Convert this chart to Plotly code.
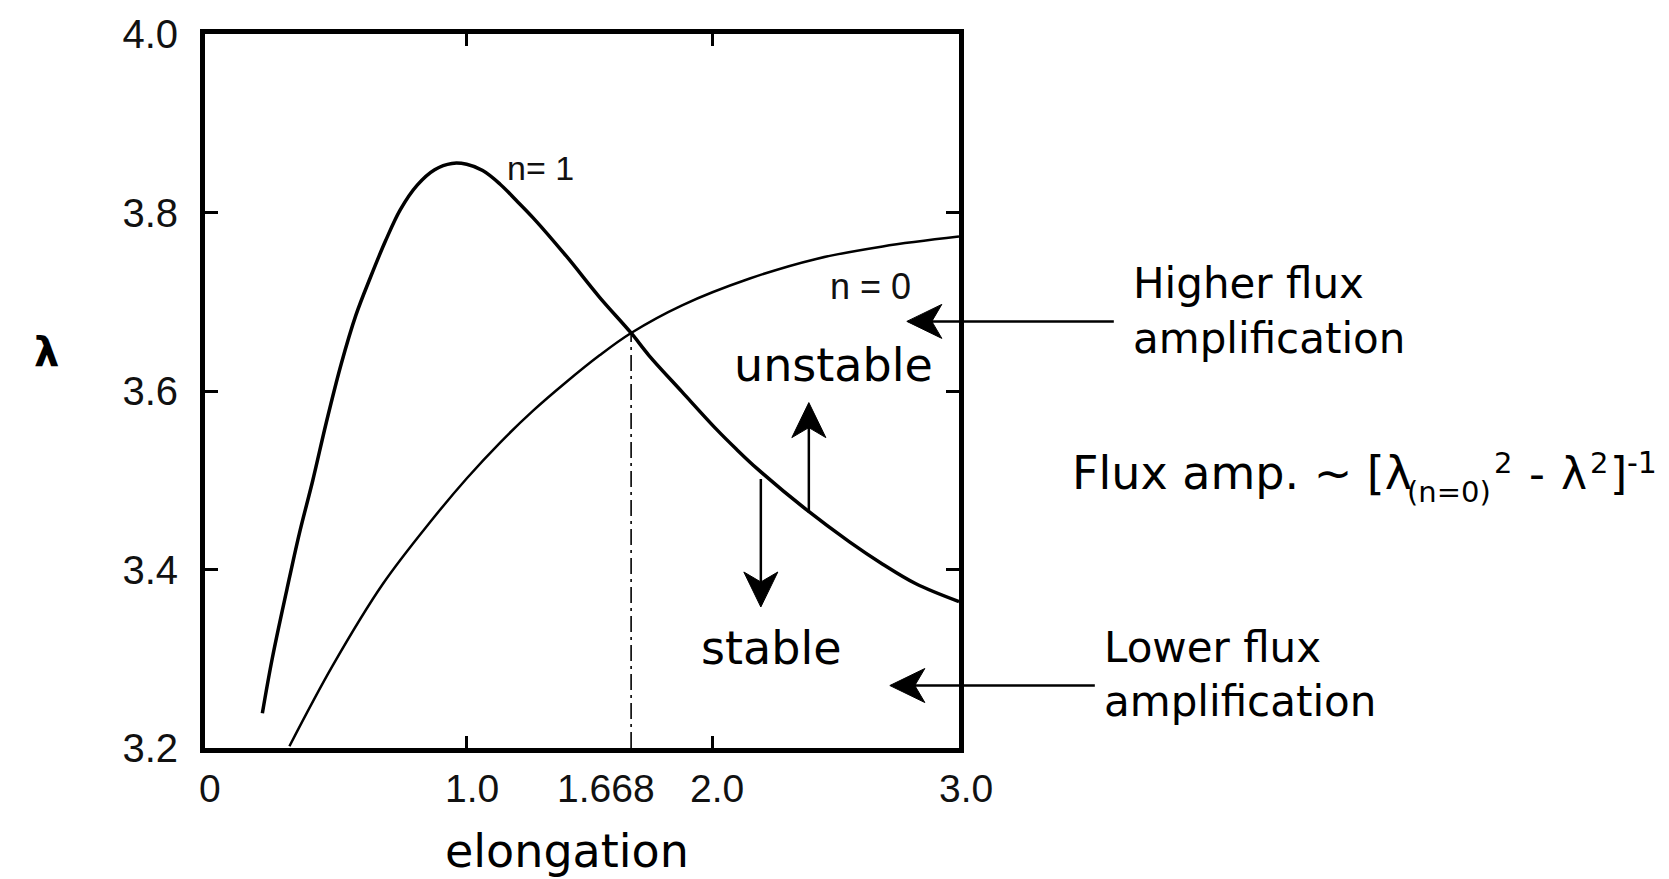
import plotly.graph_objects as go

# ---------------- data ----------------
N1_X = [0.17, 0.21, 0.27, 0.32, 0.375, 0.43, 0.49, 0.55, 0.61, 0.67, 0.73, 0.80, 0.87, 0.94,
        1.00, 1.065, 1.135, 1.20, 1.27, 1.405, 1.54, 1.668, 1.74, 1.875, 2.015, 2.095, 2.18,
        2.38, 2.555, 2.69, 2.825, 3.0]
N1_Y = [3.239, 3.300, 3.378, 3.440, 3.500, 3.565, 3.630, 3.685, 3.728, 3.768, 3.803, 3.831,
        3.848, 3.855, 3.854, 3.847, 3.832, 3.814, 3.794, 3.751, 3.705, 3.665, 3.640, 3.599,
        3.557, 3.535, 3.513, 3.467, 3.431, 3.406, 3.384, 3.364]

N0_X = [0.28, 0.455, 0.66, 0.86, 1.00, 1.135, 1.27, 1.40, 1.54, 1.668, 1.875, 2.15, 2.42, 2.69, 3.0]
N0_Y = [3.202, 3.292, 3.384, 3.456, 3.502, 3.542, 3.578, 3.609, 3.640, 3.665, 3.696, 3.726,
        3.748, 3.762, 3.773]

CROSS_X = 1.668
CROSS_Y = 3.665

XTICK_VALS = [0, 1.0, 1.668, 2.0, 3.0]
XTICK_TEXT = ["0", "1.0", "1.668", "2.0", "3.0"]
XTICK_MARKS = [1.0, 2.0]
YTICK_VALS = [3.2, 3.4, 3.6, 3.8, 4.0]
YTICK_TEXT = ["3.2", "3.4", "3.6", "3.8", "4.0"]

X_RANGE = [-0.063, 3.0]
Y_RANGE = [3.2, 4.0]

# ---------------- layout geometry (pixels) ----------------
W, H = 1669, 879
ML, MR, MT, MB = 205, 710, 25, 131
PW, PH = W - ML - MR, H - MT - MB


def px(xp):
    return (xp - ML) / PW


def py(yp):
    return (H - MB - yp) / PH


def dx2p(x):
    return (x - X_RANGE[0]) / (X_RANGE[1] - X_RANGE[0])


def dy2p(y):
    return (y - Y_RANGE[0]) / (Y_RANGE[1] - Y_RANGE[0])


XLABEL_SHIFT = [-11, 5, -25, 4, 7]

TXT = "DejaVu Sans"
OLD = "Liberation Sans"
INK = "#000000"

fig = go.Figure()

fig.add_trace(go.Scatter(x=N1_X, y=N1_Y, mode="lines",
                         line=dict(color=INK, width=3.5, shape="spline", smoothing=1.0),
                         showlegend=False, hoverinfo="skip"))
fig.add_trace(go.Scatter(x=N0_X, y=N0_Y, mode="lines",
                         line=dict(color=INK, width=2.5, shape="spline", smoothing=1.0),
                         showlegend=False, hoverinfo="skip"))
fig.add_trace(go.Scatter(x=[CROSS_X, CROSS_X], y=[Y_RANGE[0], CROSS_Y], mode="lines",
                         line=dict(color=INK, width=1.6, dash="16px,5px,3px,5px"),
                         showlegend=False, hoverinfo="skip"))

ann = []
# x tick labels
for v, t, s in zip(XTICK_VALS, XTICK_TEXT, XLABEL_SHIFT):
    ann.append(dict(x=v, y=Y_RANGE[0], xref="x", yref="y", text=t, showarrow=False,
                    xanchor="center", yanchor="middle", xshift=s, yshift=-40,
                    font=dict(family=OLD, size=39, color="#111")))

# curve labels
ann.append(dict(x=1.30, y=3.850, xref="x", yref="y", text="n= 1", showarrow=False,
                font=dict(family=OLD, size=34, color="#111")))
ann.append(dict(x=2.642, y=3.717, xref="x", yref="y", text="n = 0", showarrow=False,
                font=dict(family=OLD, size=36, color="#111")))

# axis labels
ann.append(dict(x=px(567), y=py(852), xref="paper", yref="paper", text="elongation",
                showarrow=False, xanchor="center", yanchor="middle",
                font=dict(family=TXT, size=46, color=INK)))
ann.append(dict(x=px(46), y=py(347), xref="paper", yref="paper", text="<b>λ</b>",
                showarrow=False, xanchor="center", yanchor="middle",
                font=dict(family=TXT, size=40, color=INK)))

# region labels
ann.append(dict(x=px(833), y=py(360), xref="paper", yref="paper", text="unstable",
                showarrow=False, xanchor="center", yanchor="middle",
                font=dict(family=TXT, size=46, color=INK)))
ann.append(dict(x=px(771), y=py(647), xref="paper", yref="paper", text="stable",
                showarrow=False, xanchor="center", yanchor="middle",
                font=dict(family=TXT, size=46, color=INK)))

# right-side text
for txt, xp, yp in [("Higher flux", 1131, 278), ("amplification", 1131, 333),
                    ("Lower flux", 1102, 646), ("amplification", 1102, 701)]:
    ann.append(dict(x=px(xp), y=py(yp), xref="paper", yref="paper", text=txt,
                    showarrow=False, xanchor="left", yanchor="middle",
                    font=dict(family=TXT, size=42, color=INK)))

# formula  Flux amp. ~ [λ(n=0)^2 - λ^2]^-1  laid out piece by piece
FORMULA_PIECES = [  # text, left x (px), centre y (px), font size
    ("Flux amp. ~ [λ", 1070, 470, 46),
    ("(n=0)", 1405, 489, 29),
    ("2", 1492, 459, 29),
    ("-", 1527, 470, 44),
    ("λ", 1559, 470, 44),
    ("2", 1588, 459, 29),
    ("]", 1608, 470, 44),
    ("-1", 1625, 459, 30),
]
for txt, xp, yp, fs in FORMULA_PIECES:
    ann.append(dict(x=px(xp), y=py(yp), xref="paper", yref="paper", text=txt,
                    showarrow=False, xanchor="left", yanchor="middle",
                    font=dict(family=TXT, size=fs, color=INK)))

# ---------------- arrows (pixel-sized shapes anchored at the tip) ----------------
HEAD_LEN, HEAD_HALF, HEAD_NOTCH = 35, 17, 25
shapes = []


def add_arrow(tip_x, tip_y, ux, uy, length):
    # (ux, uy): unit direction from the tip toward the tail, pixels, y up
    vx, vy = -uy, ux
    pts = [(0, 0),
           (HEAD_LEN * ux + HEAD_HALF * vx, HEAD_LEN * uy + HEAD_HALF * vy),
           (HEAD_NOTCH * ux, HEAD_NOTCH * uy),
           (HEAD_LEN * ux - HEAD_HALF * vx, HEAD_LEN * uy - HEAD_HALF * vy)]
    path = "M" + " L".join(f"{a:.1f},{b:.1f}" for a, b in pts) + " Z"
    common = dict(xref="paper", yref="paper", xsizemode="pixel", ysizemode="pixel",
                  xanchor=dx2p(tip_x), yanchor=dy2p(tip_y))
    shapes.append(dict(type="line", x0=20 * ux, y0=20 * uy, x1=length * ux, y1=length * uy,
                       line=dict(color=INK, width=2.5), **common))
    shapes.append(dict(type="path", path=path, fillcolor=INK,
                       line=dict(color=INK, width=1), **common))


add_arrow(2.788, 3.678, 1, 0, 207)     # to "Higher flux amplification"
add_arrow(2.719, 3.270, 1, 0, 205)     # to "Lower flux amplification"
add_arrow(2.390, 3.587, 0, -1, 110)    # up, unstable
add_arrow(2.195, 3.358, 0, 1, 128)     # down, stable

fig.update_layout(
    width=W, height=H, autosize=False,
    margin=dict(l=ML, r=MR, t=MT, b=MB, pad=0),
    paper_bgcolor="white", plot_bgcolor="white",
    showlegend=False,
    annotations=ann,
    shapes=shapes,
    xaxis=dict(range=X_RANGE, showgrid=False, zeroline=False,
               showline=True, linecolor=INK, linewidth=5, mirror="ticks",
               tickmode="array", tickvals=XTICK_MARKS, showticklabels=False,
               ticks="inside", ticklen=12, tickwidth=3, tickcolor=INK),
    yaxis=dict(range=Y_RANGE, showgrid=False, zeroline=False,
               showline=True, linecolor=INK, linewidth=5, mirror="ticks",
               tickmode="array", tickvals=YTICK_VALS, ticktext=YTICK_TEXT,
               ticks="inside", ticklen=13, tickwidth=3, tickcolor=INK,
               ticklabelstandoff=14,
               tickfont=dict(family=OLD, size=40, color="#111")),
)

fig.write_html("out.html")
